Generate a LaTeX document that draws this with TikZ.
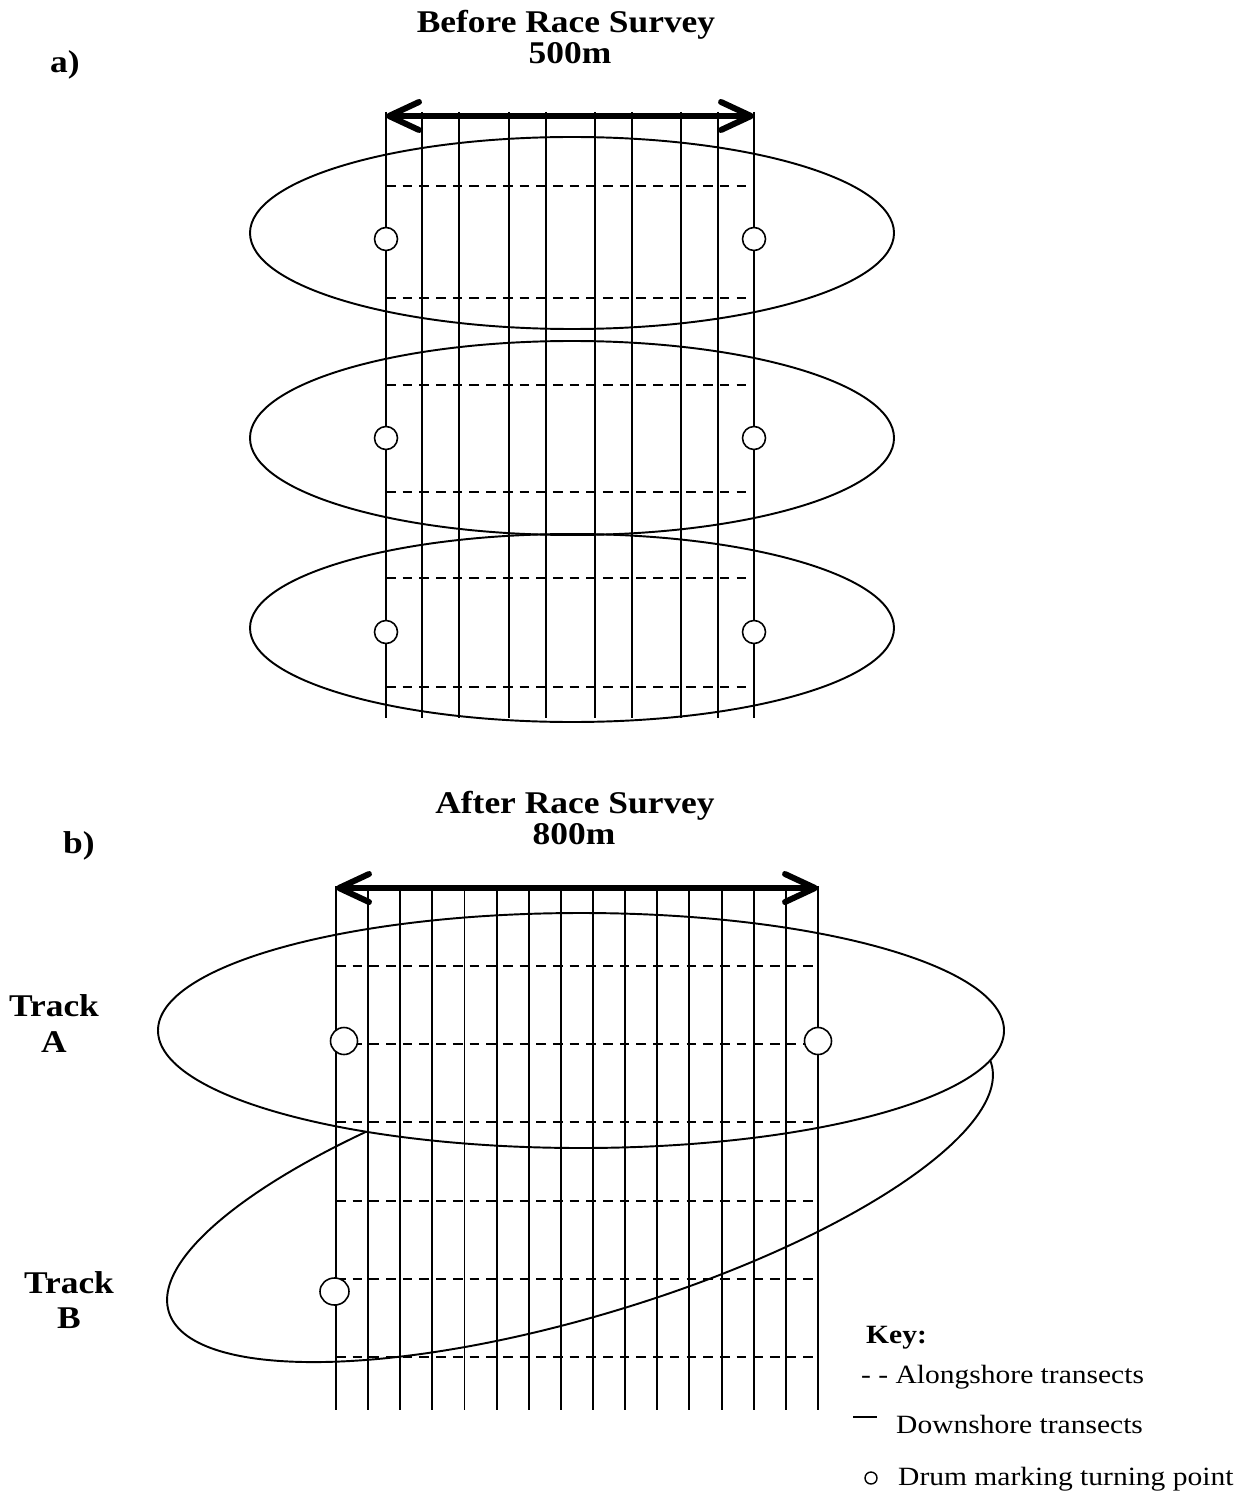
\documentclass[tikz,border=0pt]{standalone}
\usepackage{fontspec}
\setmainfont{Liberation Serif}[FakeStretch=1.12]
\usetikzlibrary{arrows.meta}

\tikzset{
  transect/.style={line width=1.1pt},
  alongshore/.style={line width=1.2pt, dash pattern=on 5.5pt off 4pt},
  beach/.style={line width=1.1pt},
  drum/.style={draw, line width=0.9pt, fill=white},
  span/.style={line width=3.4pt,
    {Straight Barb[round,length=0.6cm,width=0.56cm]}-{Straight Barb[round,length=0.6cm,width=0.56cm]}},
  heading/.style={font=\bfseries\fontsize{18}{18}\selectfont, anchor=base},
  legend/.style={font=\fontsize{15}{15}\selectfont, anchor=base west}
}

\begin{document}
\begin{tikzpicture}[x=0.02cm, y=-0.02cm]
	\useasboundingbox (0,0) rectangle (1247,1496);

	% a) before race
	\node[heading] (titlea) at (566,33) {Before Race Survey};
	\node[heading] (lengtha) at (570,64) {500m};
	\node[heading, anchor=base west] (panela) at (44,73) {a)};

	\foreach \cy/\ry in {233/96,438/97,628/94}
		\draw[beach] (572,\cy) ellipse (322 and \ry);

	\foreach \x in {386,422,459,509,546,595,632,681,718,754}
		\draw[transect] (\x,112) -- (\x,718);

	\foreach \y in {186,298,385,492,578,687}
		\draw[alongshore] (386,\y) -- (754,\y);

	\coordinate (a-west) at (386,116);
	\coordinate (a-east) at (754,116);
	\draw[span] (a-west) -- (a-east);

	\foreach \y in {239,438,632}{
		\draw[drum] (386,\y) circle (11.5);
		\draw[drum] (754,\y) circle (11.5);
	}

	% b) after race
	\node[heading] (titleb) at (575,813) {After Race Survey};
	\node[heading] (lengthb) at (574,844) {800m};
	\node[heading, anchor=base west] (panelb) at (57,853) {b)};

	\node[heading] (tracka) at (54,1016) {Track};
	\node[heading] (tracka-id) at (54,1052) {A};
	\node[heading] (trackb) at (69,1293) {Track};
	\node[heading] (trackb-id) at (69,1328) {B};

	\draw[beach, rotate around={16.8:(580,1187.5)}] (580,1187.5) ellipse (429.6 and 128.2);
	\draw[beach, fill=white] (581,1030.5) ellipse (423 and 117.5);

	\foreach \i in {0,...,15}
		\draw[transect] ({336+32.13*\i},886) -- ({336+32.13*\i},1410);

	\foreach \i in {0,...,5}
		\draw[alongshore] (336,{966+78.2*\i}) -- (818,{966+78.2*\i});

	\coordinate (b-west) at (336,888);
	\coordinate (b-east) at (818,888);
	\draw[span] (b-west) -- (b-east);

	\draw[drum] (344,1041) circle (13.5);
	\draw[drum] (818,1041) circle (13.5);
	\draw[drum] (334.5,1291.5) ellipse (14.5 and 13.5);

	% key
	\node[font=\bfseries\fontsize{15}{15}\selectfont, anchor=base west] (key) at (860,1343) {Key:};
	\node[legend] (keyalong) at (855,1383) {- - Alongshore transects};
	\draw[line width=0.8pt] (853,1417) -- (877,1417);
	\node[legend] (keydown) at (890,1433) {Downshore transects};
	\node[draw, circle, line width=0.8pt, inner sep=0pt, minimum size=0.24cm] (keydrum) at (871,1478) {};
	\node[legend] (keydrumtext) at (892,1485) {Drum marking turning point};
\end{tikzpicture}
\end{document}
